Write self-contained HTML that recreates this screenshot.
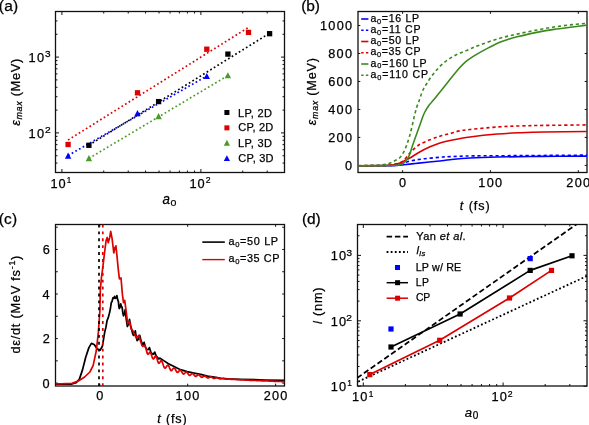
<!DOCTYPE html>
<html><head><meta charset="utf-8"><style>
html,body{margin:0;padding:0;background:#fff;overflow:hidden;}
svg{display:block;will-change:transform;}
text{font-family:"Liberation Sans", sans-serif;}
</style></head><body>
<svg width="589" height="425" viewBox="0 0 589 425">
<defs>
<clipPath id="clipb"><rect x="358.0" y="11.5" width="229.0" height="161.0"/></clipPath>
<clipPath id="clipc"><rect x="55.5" y="224.5" width="229.0" height="161.5"/></clipPath>
<clipPath id="clipd"><rect x="357.5" y="224.5" width="229.5" height="161.5"/></clipPath>
</defs>
<rect width="589" height="425" fill="#fff"/>
<rect x="55.5" y="11.5" width="229.0" height="161.0" fill="none" stroke="#111" stroke-width="1.3"/>
<path d="M61.90 172.5v-3.5M61.90 11.5v3.5" stroke="#111" stroke-width="1.0"/>
<path d="M200.90 172.5v-3.5M200.90 11.5v3.5" stroke="#111" stroke-width="1.0"/>
<path d="M103.74 172.5v-2.0M103.74 11.5v2.0" stroke="#111" stroke-width="1.0"/>
<path d="M128.22 172.5v-2.0M128.22 11.5v2.0" stroke="#111" stroke-width="1.0"/>
<path d="M145.59 172.5v-2.0M145.59 11.5v2.0" stroke="#111" stroke-width="1.0"/>
<path d="M159.06 172.5v-2.0M159.06 11.5v2.0" stroke="#111" stroke-width="1.0"/>
<path d="M170.06 172.5v-2.0M170.06 11.5v2.0" stroke="#111" stroke-width="1.0"/>
<path d="M179.37 172.5v-2.0M179.37 11.5v2.0" stroke="#111" stroke-width="1.0"/>
<path d="M187.43 172.5v-2.0M187.43 11.5v2.0" stroke="#111" stroke-width="1.0"/>
<path d="M194.54 172.5v-2.0M194.54 11.5v2.0" stroke="#111" stroke-width="1.0"/>
<path d="M242.74 172.5v-2.0M242.74 11.5v2.0" stroke="#111" stroke-width="1.0"/>
<path d="M267.22 172.5v-2.0M267.22 11.5v2.0" stroke="#111" stroke-width="1.0"/>
<path d="M55.5 132.90h3.5M284.5 132.90h-3.5" stroke="#111" stroke-width="1.0"/>
<path d="M55.5 57.10h3.5M284.5 57.10h-3.5" stroke="#111" stroke-width="1.0"/>
<path d="M55.5 163.06h2.0M284.5 163.06h-2.0" stroke="#111" stroke-width="1.0"/>
<path d="M55.5 155.72h2.0M284.5 155.72h-2.0" stroke="#111" stroke-width="1.0"/>
<path d="M55.5 149.72h2.0M284.5 149.72h-2.0" stroke="#111" stroke-width="1.0"/>
<path d="M55.5 144.64h2.0M284.5 144.64h-2.0" stroke="#111" stroke-width="1.0"/>
<path d="M55.5 140.25h2.0M284.5 140.25h-2.0" stroke="#111" stroke-width="1.0"/>
<path d="M55.5 136.37h2.0M284.5 136.37h-2.0" stroke="#111" stroke-width="1.0"/>
<path d="M55.5 110.08h2.0M284.5 110.08h-2.0" stroke="#111" stroke-width="1.0"/>
<path d="M55.5 96.73h2.0M284.5 96.73h-2.0" stroke="#111" stroke-width="1.0"/>
<path d="M55.5 87.26h2.0M284.5 87.26h-2.0" stroke="#111" stroke-width="1.0"/>
<path d="M55.5 79.92h2.0M284.5 79.92h-2.0" stroke="#111" stroke-width="1.0"/>
<path d="M55.5 73.92h2.0M284.5 73.92h-2.0" stroke="#111" stroke-width="1.0"/>
<path d="M55.5 68.84h2.0M284.5 68.84h-2.0" stroke="#111" stroke-width="1.0"/>
<path d="M55.5 64.45h2.0M284.5 64.45h-2.0" stroke="#111" stroke-width="1.0"/>
<path d="M55.5 60.57h2.0M284.5 60.57h-2.0" stroke="#111" stroke-width="1.0"/>
<path d="M55.5 34.28h2.0M284.5 34.28h-2.0" stroke="#111" stroke-width="1.0"/>
<path d="M55.5 20.93h2.0M284.5 20.93h-2.0" stroke="#111" stroke-width="1.0"/>
<line x1="68.1" y1="140.0" x2="248.5" y2="27.4" stroke="#dd0000" stroke-width="1.7" stroke-dasharray="1.7 2.5"/>
<line x1="88.9" y1="145.2" x2="268.5" y2="33.9" stroke="#000000" stroke-width="1.7" stroke-dasharray="1.7 2.5"/>
<line x1="68.1" y1="155.5" x2="206.8" y2="76.0" stroke="#0000ff" stroke-width="1.7" stroke-dasharray="1.7 2.5"/>
<line x1="88.9" y1="158.4" x2="227.9" y2="75.6" stroke="#4a9a2a" stroke-width="1.7" stroke-dasharray="1.7 2.5"/>
<rect x="65.45" y="141.85" width="5.3" height="5.3" fill="#dd0000"/>
<rect x="134.85" y="90.15" width="5.3" height="5.3" fill="#dd0000"/>
<rect x="204.15" y="46.55" width="5.3" height="5.3" fill="#dd0000"/>
<rect x="245.85" y="29.75" width="5.3" height="5.3" fill="#dd0000"/>
<rect x="86.25" y="142.65" width="5.3" height="5.3" fill="#000000"/>
<rect x="155.95" y="98.95" width="5.3" height="5.3" fill="#000000"/>
<rect x="225.25" y="51.45" width="5.3" height="5.3" fill="#000000"/>
<rect x="266.95" y="31.05" width="5.3" height="5.3" fill="#000000"/>
<polygon points="68.10,152.62 71.29,158.71 64.91,158.71" fill="#0000ff"/>
<polygon points="137.50,110.12 140.69,116.21 134.31,116.21" fill="#0000ff"/>
<polygon points="206.80,73.02 209.99,79.11 203.61,79.11" fill="#0000ff"/>
<polygon points="88.90,155.12 92.09,161.21 85.71,161.21" fill="#4a9a2a"/>
<polygon points="158.60,113.12 161.79,119.21 155.41,119.21" fill="#4a9a2a"/>
<polygon points="227.90,72.22 231.09,78.31 224.71,78.31" fill="#4a9a2a"/>
<rect x="224.40" y="110.00" width="5.0" height="5.0" fill="#000000"/>
<rect x="224.40" y="125.35" width="5.0" height="5.0" fill="#dd0000"/>
<polygon points="226.90,139.84 229.98,145.72 223.82,145.72" fill="#4a9a2a"/>
<polygon points="226.90,155.19 229.98,161.07 223.82,161.07" fill="#0000ff"/>
<rect x="358.0" y="11.5" width="229.0" height="161.0" fill="none" stroke="#111" stroke-width="1.3"/>
<path d="M402.60 172.5v-2.3M402.60 11.5v2.3" stroke="#111" stroke-width="1.0"/>
<path d="M490.45 172.5v-2.3M490.45 11.5v2.3" stroke="#111" stroke-width="1.0"/>
<path d="M578.30 172.5v-2.3M578.30 11.5v2.3" stroke="#111" stroke-width="1.0"/>
<path d="M358.0 165.40h2.3M587.0 165.40h-2.3" stroke="#111" stroke-width="1.0"/>
<path d="M358.0 137.42h2.3M587.0 137.42h-2.3" stroke="#111" stroke-width="1.0"/>
<path d="M358.0 109.44h2.3M587.0 109.44h-2.3" stroke="#111" stroke-width="1.0"/>
<path d="M358.0 81.46h2.3M587.0 81.46h-2.3" stroke="#111" stroke-width="1.0"/>
<path d="M358.0 53.48h2.3M587.0 53.48h-2.3" stroke="#111" stroke-width="1.0"/>
<path d="M358.0 25.50h2.3M587.0 25.50h-2.3" stroke="#111" stroke-width="1.0"/>
<g clip-path="url(#clipb)">
<path d="M358.50,165.70 C364.48,165.68 386.85,165.77 394.40,165.60 C401.95,165.43 400.32,165.05 403.80,164.70 C407.28,164.35 411.43,163.90 415.30,163.50 C419.17,163.10 422.88,162.72 427.00,162.30 C431.12,161.88 436.17,161.43 440.00,161.00 C443.83,160.57 445.00,160.20 450.00,159.70 C455.00,159.20 462.13,158.45 470.00,158.00 C477.87,157.55 485.53,157.27 497.20,157.00 C508.87,156.73 525.05,156.55 540.00,156.40 C554.95,156.25 579.08,156.15 586.90,156.10" fill="none" stroke="#0000ff" stroke-width="1.6" stroke-linejoin="round"/>
<path d="M358.50,165.70 C363.75,165.67 383.23,165.70 390.00,165.50 C396.77,165.30 395.90,165.20 399.10,164.50 C402.30,163.80 405.23,162.23 409.20,161.30 C413.17,160.37 417.77,159.57 422.90,158.90 C428.03,158.23 435.48,157.68 440.00,157.30 C444.52,156.92 444.40,156.83 450.00,156.60 C455.60,156.37 461.80,156.07 473.60,155.90 C485.40,155.73 501.92,155.73 520.80,155.60 C539.68,155.47 575.88,155.18 586.90,155.10" fill="none" stroke="#0000ff" stroke-width="1.6" stroke-dasharray="3.2 2.8" stroke-linejoin="round"/>
<path d="M358.50,165.70 C362.92,165.67 379.02,165.70 385.00,165.50 C390.98,165.30 391.90,164.92 394.40,164.50 C396.90,164.08 397.50,164.03 400.00,163.00 C402.50,161.97 406.27,160.05 409.40,158.30 C412.53,156.55 415.37,154.42 418.80,152.50 C422.23,150.58 426.47,148.40 430.00,146.80 C433.53,145.20 436.67,143.95 440.00,142.90 C443.33,141.85 445.00,141.48 450.00,140.50 C455.00,139.52 462.13,138.08 470.00,137.00 C477.87,135.92 488.73,134.72 497.20,134.00 C505.67,133.28 512.93,133.03 520.80,132.70 C528.67,132.37 533.38,132.20 544.40,132.00 C555.42,131.80 579.82,131.58 586.90,131.50" fill="none" stroke="#dd0000" stroke-width="1.6" stroke-linejoin="round"/>
<path d="M358.50,165.70 C362.92,165.65 378.92,165.68 385.00,165.40 C391.08,165.12 392.02,164.70 395.00,164.00 C397.98,163.30 400.50,162.95 402.90,161.20 C405.30,159.45 406.75,156.20 409.40,153.50 C412.05,150.80 415.37,147.28 418.80,145.00 C422.23,142.72 426.47,141.27 430.00,139.80 C433.53,138.33 436.67,137.23 440.00,136.20 C443.33,135.17 446.75,134.48 450.00,133.60 C453.25,132.72 456.17,131.58 459.50,130.90 C462.83,130.22 463.72,130.15 470.00,129.50 C476.28,128.85 488.73,127.60 497.20,127.00 C505.67,126.40 512.93,126.17 520.80,125.90 C528.67,125.63 533.38,125.57 544.40,125.40 C555.42,125.23 579.82,124.98 586.90,124.90" fill="none" stroke="#dd0000" stroke-width="1.6" stroke-dasharray="3.2 2.8" stroke-linejoin="round"/>
<path d="M358.50,165.70 C362.92,165.68 379.02,165.67 385.00,165.60 C390.98,165.53 391.73,165.48 394.40,165.30 C397.07,165.12 399.13,165.18 401.00,164.50 C402.87,163.82 404.20,162.77 405.60,161.20 C407.00,159.63 408.30,157.53 409.40,155.10 C410.50,152.67 411.25,149.42 412.20,146.60 C413.15,143.78 414.15,140.87 415.10,138.20 C416.05,135.53 416.95,133.25 417.90,130.60 C418.85,127.95 419.77,125.15 420.80,122.30 C421.83,119.45 422.77,116.30 424.10,113.50 C425.43,110.70 427.23,107.73 428.80,105.50 C430.37,103.27 431.63,102.37 433.50,100.10 C435.37,97.83 437.58,94.92 440.00,91.90 C442.42,88.88 444.88,85.85 448.00,82.00 C451.12,78.15 455.68,72.23 458.70,68.80 C461.72,65.37 463.48,63.60 466.10,61.40 C468.72,59.20 472.08,57.10 474.40,55.60 C476.72,54.10 477.52,53.77 480.00,52.40 C482.48,51.03 486.22,49.00 489.30,47.40 C492.38,45.80 495.42,44.13 498.50,42.80 C501.58,41.47 504.72,40.40 507.80,39.40 C510.88,38.40 512.38,37.93 517.00,36.80 C521.62,35.67 529.33,33.83 535.50,32.60 C541.67,31.37 547.83,30.33 554.00,29.40 C560.17,28.47 566.92,27.72 572.50,27.00 C578.08,26.28 585.00,25.42 587.50,25.10" fill="none" stroke="#3b8a1e" stroke-width="1.6" stroke-linejoin="round"/>
<path d="M358.50,165.70 C361.25,165.67 371.25,165.62 375.00,165.50 C378.75,165.38 378.70,165.35 381.00,165.00 C383.30,164.65 386.57,164.07 388.80,163.40 C391.03,162.73 392.53,161.98 394.40,161.00 C396.27,160.02 398.43,159.03 400.00,157.50 C401.57,155.97 402.70,153.85 403.80,151.80 C404.90,149.75 405.67,147.70 406.60,145.20 C407.53,142.70 408.50,139.92 409.40,136.80 C410.30,133.68 411.15,130.05 412.00,126.50 C412.85,122.95 413.70,118.75 414.50,115.50 C415.30,112.25 415.98,109.58 416.80,107.00 C417.62,104.42 418.50,102.53 419.40,100.00 C420.30,97.47 421.00,94.52 422.20,91.80 C423.40,89.08 424.50,86.98 426.60,83.70 C428.70,80.42 431.78,75.68 434.80,72.10 C437.82,68.52 441.13,65.08 444.70,62.20 C448.27,59.32 452.35,56.85 456.20,54.80 C460.05,52.75 463.83,51.55 467.80,49.90 C471.77,48.25 474.88,46.78 480.00,44.90 C485.12,43.02 492.33,40.40 498.50,38.60 C504.67,36.80 510.83,35.48 517.00,34.10 C523.17,32.72 529.33,31.48 535.50,30.30 C541.67,29.12 547.83,27.95 554.00,27.00 C560.17,26.05 566.92,25.23 572.50,24.60 C578.08,23.97 585.00,23.43 587.50,23.20" fill="none" stroke="#3b8a1e" stroke-width="1.6" stroke-dasharray="3.2 2.8" stroke-linejoin="round"/>
</g>
<line x1="361.2" y1="19.00" x2="368.4" y2="19.00" stroke="#0000ff" stroke-width="1.6"/>
<line x1="361.2" y1="30.25" x2="368.4" y2="30.25" stroke="#0000ff" stroke-width="1.6" stroke-dasharray="2.4 2.3"/>
<line x1="361.2" y1="41.50" x2="368.4" y2="41.50" stroke="#dd0000" stroke-width="1.6"/>
<line x1="361.2" y1="52.75" x2="368.4" y2="52.75" stroke="#dd0000" stroke-width="1.6" stroke-dasharray="2.4 2.3"/>
<line x1="361.2" y1="64.00" x2="368.4" y2="64.00" stroke="#3b8a1e" stroke-width="1.6"/>
<line x1="361.2" y1="75.25" x2="368.4" y2="75.25" stroke="#3b8a1e" stroke-width="1.6" stroke-dasharray="2.4 2.3"/>
<rect x="55.5" y="224.5" width="229.0" height="161.5" fill="none" stroke="#111" stroke-width="1.3"/>
<path d="M99.80 386.0v-2.3M99.80 224.5v2.3" stroke="#111" stroke-width="1.0"/>
<path d="M187.70 386.0v-2.3M187.70 224.5v2.3" stroke="#111" stroke-width="1.0"/>
<path d="M275.60 386.0v-2.3M275.60 224.5v2.3" stroke="#111" stroke-width="1.0"/>
<path d="M55.5 383.10h2.3M284.5 383.10h-2.3" stroke="#111" stroke-width="1.0"/>
<path d="M55.5 360.83h2.3M284.5 360.83h-2.3" stroke="#111" stroke-width="1.0"/>
<path d="M55.5 338.56h2.3M284.5 338.56h-2.3" stroke="#111" stroke-width="1.0"/>
<path d="M55.5 316.29h2.3M284.5 316.29h-2.3" stroke="#111" stroke-width="1.0"/>
<path d="M55.5 294.02h2.3M284.5 294.02h-2.3" stroke="#111" stroke-width="1.0"/>
<path d="M55.5 271.75h2.3M284.5 271.75h-2.3" stroke="#111" stroke-width="1.0"/>
<path d="M55.5 249.48h2.3M284.5 249.48h-2.3" stroke="#111" stroke-width="1.0"/>
<path d="M55.5 227.21h2.3M284.5 227.21h-2.3" stroke="#111" stroke-width="1.0"/>
<g clip-path="url(#clipc)">
<polyline points="55.5,384.0 71.9,384.0 76.2,382.6 79.3,379.4 82.5,369.9 85.7,357.2 88.9,347.6 91.4,343.4 94.2,344.5 97.3,349.1 100.1,350.2 102.4,346.2 104.7,332.1 105.9,327.4 107.1,320.3 108.2,317.9 109.4,313.2 110.3,309.1 111.3,302.6 112.1,301.4 112.9,297.9 113.8,298.3 114.6,296.3 115.3,298.3 116.0,297.9 116.5,297.9 116.9,295.6 117.7,299.8 118.4,301.5 118.8,306.2 119.3,308.5 120.0,307.3 120.7,303.8 121.4,306.7 122.1,307.1 122.8,312.7 123.5,315.9 124.3,314.0 125.2,309.7 126.3,319.3 127.4,326.5 128.4,324.1 129.5,319.4 130.7,325.9 131.8,330.0 132.7,333.8 133.5,335.3 134.4,334.3 135.3,330.9 136.2,336.9 137.1,340.6 138.4,339.2 139.7,335.3 141.1,340.9 142.4,344.1 143.2,344.4 144.1,342.4 145.4,347.1 146.8,349.4 148.1,349.7 149.4,347.6 150.8,351.9 152.1,353.8 153.4,354.2 154.7,352.1 156.1,355.9 157.4,357.4 158.7,358.9 160.0,358.1 164.1,360.9 168.1,363.6 173.6,366.3 180.4,369.7 187.2,371.7 194.0,373.1 200.7,374.4 207.5,376.1 214.3,377.2 221.1,378.3 227.9,378.8 240.0,379.3 265.0,380.0 285.0,380.3" fill="none" stroke="#000000" stroke-width="1.75" stroke-linejoin="round"/>
<polyline points="55.5,384.0 71.9,383.4 78.3,381.0 84.6,377.0 89.9,372.0 93.1,365.6 96.3,350.8 98.4,331.8 99.9,310.6 100.3,290.3 101.4,277.9 102.8,267.5 104.5,253.0 106.1,240.6 107.2,237.5 108.2,242.7 109.7,237.5 110.7,231.3 112.1,238.6 113.8,253.0 114.8,247.9 115.9,245.8 116.9,255.1 118.3,269.6 119.4,278.9 121.0,277.9 122.4,294.4 123.5,302.6 124.7,300.3 126.4,313.2 127.7,323.8 129.5,321.2 131.2,329.1 133.0,330.9 134.8,335.3 136.5,337.9 138.8,335.3 140.6,341.5 141.0,342.2 141.5,344.2 142.0,345.6 142.5,346.3 143.0,346.3 143.5,345.9 144.0,345.5 144.5,345.4 145.0,346.0 145.5,347.0 146.0,348.8 146.5,350.8 147.0,352.7 147.5,353.9 148.0,354.3 148.5,354.0 149.0,353.2 149.5,352.5 150.0,352.3 150.5,352.5 151.0,353.5 151.5,355.0 152.0,356.6 152.5,358.0 153.0,358.8 153.5,359.0 154.0,358.4 154.5,357.5 155.0,356.5 155.5,356.1 156.0,356.3 156.5,357.2 157.0,358.8 157.5,360.5 158.0,362.0 158.5,363.0 159.0,363.3 159.5,362.9 160.0,362.1 160.5,361.2 161.0,360.7 161.5,360.9 162.0,361.6 162.5,362.8 163.0,364.2 163.5,365.7 164.0,367.0 164.5,367.8 165.0,368.2 165.5,368.0 166.0,367.3 166.5,366.5 167.0,365.8 167.5,365.3 168.0,365.2 168.5,365.6 169.0,366.5 169.5,367.8 170.0,369.0 170.5,370.0 171.0,370.6 171.5,370.7 172.0,370.3 172.5,369.6 173.0,368.8 173.5,368.2 174.0,367.9 174.5,368.0 175.0,368.6 175.5,369.6 176.0,370.6 176.5,371.6 177.0,372.3 177.5,372.5 178.0,372.3 178.5,371.7 179.0,371.1 179.5,370.5 180.0,370.1 180.5,370.2 181.0,370.6 181.5,371.4 182.0,372.3 182.5,373.1 183.0,373.8 183.5,374.1 184.0,374.0 184.5,373.5 185.0,373.0 185.5,372.4 186.0,372.0 186.5,372.0 187.0,372.3 187.5,372.9 188.0,373.7 188.5,374.5 189.0,375.1 189.5,375.4 190.0,375.3 190.5,375.0 191.0,374.5 191.5,374.0 192.0,373.6 192.5,373.5 193.0,373.7 193.5,374.2 194.0,374.9 194.5,375.5 195.0,376.1 195.5,376.4 196.0,376.4 196.5,376.1 197.0,375.7 197.5,375.3 198.0,375.0 198.5,374.8 199.0,375.0 199.5,375.3 200.0,375.9 200.5,376.4 201.0,376.9 201.5,377.2 202.0,377.3 202.5,377.1 203.0,376.8 203.5,376.5 204.0,376.2 204.5,376.0 205.0,376.1 205.5,376.3 206.0,376.8 206.5,377.2 207.0,377.6 207.5,377.9 208.0,378.0 208.5,377.9 209.0,377.7 209.5,377.3 210.0,377.1 210.5,376.9 211.0,376.9 211.5,377.1 212.0,377.4 212.5,377.8 213.0,378.1 213.5,378.4 214.0,378.5 214.5,378.4 215.0,378.3 215.5,378.0 216.0,377.8 216.5,377.7 217.0,377.7 217.5,377.8 218.0,378.0 218.5,378.3 219.0,378.6 219.5,378.8 220.0,378.9 220.5,378.9 221.0,378.8 221.5,378.6 222.0,378.5 222.5,378.4 223.0,378.4 223.5,378.4 224.0,378.6 224.5,378.8 225.0,379.0 225.5,379.1 226.0,379.2 226.5,379.2 227.0,379.1 227.5,379.1 228.0,379.0 228.5,379.0 229.0,379.0 229.5,379.1 230.0,379.1 230.5,379.2 231.0,379.3 231.5,379.3 232.0,379.3 232.5,379.3 233.0,379.4 233.5,379.4 234.0,379.4 234.5,379.4 235.0,379.5 235.5,379.5 236.0,379.5 236.5,379.6 237.0,379.6 237.5,379.6 238.0,379.6 238.5,379.7 239.0,379.7 239.5,379.7 240.0,379.8 240.5,379.8 241.0,379.8 241.5,379.8 242.0,379.9 242.5,379.9 243.0,379.9 243.5,379.9 244.0,380.0 244.5,380.0 245.0,380.0 245.5,380.1 246.0,380.1 246.5,380.1 247.0,380.1 247.5,380.2 248.0,380.2 248.5,380.2 249.0,380.2 249.5,380.3 250.0,380.3 250.5,380.3 251.0,380.3 251.5,380.4 252.0,380.4 252.5,380.4 253.0,380.4 253.5,380.4 254.0,380.5 254.5,380.5 255.0,380.5 255.5,380.5 256.0,380.5 256.5,380.6 257.0,380.6 257.5,380.6 258.0,380.6 258.5,380.6 259.0,380.7 259.5,380.7 260.0,380.7 260.5,380.7 261.0,380.7 261.5,380.8 262.0,380.8 262.5,380.8 263.0,380.8 263.5,380.8 264.0,380.9 264.5,380.9 265.0,380.9 265.5,380.9 266.0,380.9 266.5,381.0 267.0,381.0 267.5,381.0 268.0,381.0 268.5,381.0 269.0,381.1 269.5,381.1 270.0,381.1 270.5,381.1 271.0,381.1 271.5,381.2 272.0,381.2 272.5,381.2 273.0,381.2 273.5,381.2 274.0,381.3 274.5,381.3 275.0,381.3 275.5,381.3 276.0,381.3 276.5,381.4 277.0,381.4 277.5,381.4 278.0,381.4 278.5,381.4 279.0,381.5 279.5,381.5 280.0,381.5 280.5,381.5 281.0,381.5 281.5,381.6 282.0,381.6 282.5,381.6 283.0,381.6 283.5,381.6 284.0,381.7 284.5,381.7 285.0,381.7" fill="none" stroke="#dd0000" stroke-width="1.7" stroke-linejoin="round"/>
<line x1="99.0" y1="224.5" x2="99.0" y2="386.0" stroke="#000000" stroke-width="1.7" stroke-dasharray="2.9 4.0"/>
<line x1="102.8" y1="224.5" x2="102.8" y2="386.0" stroke="#dd0000" stroke-width="1.7" stroke-dasharray="2.9 4.0"/>
</g>
<line x1="202.3" y1="242.1" x2="224.8" y2="242.1" stroke="#000000" stroke-width="1.6"/>
<line x1="202.3" y1="259.6" x2="224.8" y2="259.6" stroke="#dd0000" stroke-width="1.4"/>
<rect x="357.5" y="224.5" width="229.5" height="161.5" fill="none" stroke="#111" stroke-width="1.3"/>
<path d="M363.30 386.0v-3.5M363.30 224.5v3.5" stroke="#111" stroke-width="1.0"/>
<path d="M503.10 386.0v-3.5M503.10 224.5v3.5" stroke="#111" stroke-width="1.0"/>
<path d="M405.38 386.0v-2.0M405.38 224.5v2.0" stroke="#111" stroke-width="1.0"/>
<path d="M430.00 386.0v-2.0M430.00 224.5v2.0" stroke="#111" stroke-width="1.0"/>
<path d="M447.47 386.0v-2.0M447.47 224.5v2.0" stroke="#111" stroke-width="1.0"/>
<path d="M461.02 386.0v-2.0M461.02 224.5v2.0" stroke="#111" stroke-width="1.0"/>
<path d="M472.09 386.0v-2.0M472.09 224.5v2.0" stroke="#111" stroke-width="1.0"/>
<path d="M481.44 386.0v-2.0M481.44 224.5v2.0" stroke="#111" stroke-width="1.0"/>
<path d="M489.55 386.0v-2.0M489.55 224.5v2.0" stroke="#111" stroke-width="1.0"/>
<path d="M496.70 386.0v-2.0M496.70 224.5v2.0" stroke="#111" stroke-width="1.0"/>
<path d="M545.18 386.0v-2.0M545.18 224.5v2.0" stroke="#111" stroke-width="1.0"/>
<path d="M569.80 386.0v-2.0M569.80 224.5v2.0" stroke="#111" stroke-width="1.0"/>
<path d="M357.5 386.20h3.5M587.0 386.20h-3.5" stroke="#111" stroke-width="1.0"/>
<path d="M357.5 320.80h3.5M587.0 320.80h-3.5" stroke="#111" stroke-width="1.0"/>
<path d="M357.5 255.40h3.5M587.0 255.40h-3.5" stroke="#111" stroke-width="1.0"/>
<path d="M357.5 366.51h2.0M587.0 366.51h-2.0" stroke="#111" stroke-width="1.0"/>
<path d="M357.5 355.00h2.0M587.0 355.00h-2.0" stroke="#111" stroke-width="1.0"/>
<path d="M357.5 346.83h2.0M587.0 346.83h-2.0" stroke="#111" stroke-width="1.0"/>
<path d="M357.5 340.49h2.0M587.0 340.49h-2.0" stroke="#111" stroke-width="1.0"/>
<path d="M357.5 335.31h2.0M587.0 335.31h-2.0" stroke="#111" stroke-width="1.0"/>
<path d="M357.5 330.93h2.0M587.0 330.93h-2.0" stroke="#111" stroke-width="1.0"/>
<path d="M357.5 327.14h2.0M587.0 327.14h-2.0" stroke="#111" stroke-width="1.0"/>
<path d="M357.5 323.79h2.0M587.0 323.79h-2.0" stroke="#111" stroke-width="1.0"/>
<path d="M357.5 301.11h2.0M587.0 301.11h-2.0" stroke="#111" stroke-width="1.0"/>
<path d="M357.5 289.60h2.0M587.0 289.60h-2.0" stroke="#111" stroke-width="1.0"/>
<path d="M357.5 281.43h2.0M587.0 281.43h-2.0" stroke="#111" stroke-width="1.0"/>
<path d="M357.5 275.09h2.0M587.0 275.09h-2.0" stroke="#111" stroke-width="1.0"/>
<path d="M357.5 269.91h2.0M587.0 269.91h-2.0" stroke="#111" stroke-width="1.0"/>
<path d="M357.5 265.53h2.0M587.0 265.53h-2.0" stroke="#111" stroke-width="1.0"/>
<path d="M357.5 261.74h2.0M587.0 261.74h-2.0" stroke="#111" stroke-width="1.0"/>
<path d="M357.5 258.39h2.0M587.0 258.39h-2.0" stroke="#111" stroke-width="1.0"/>
<path d="M357.5 235.71h2.0M587.0 235.71h-2.0" stroke="#111" stroke-width="1.0"/>
<g clip-path="url(#clipd)">
<line x1="357.1" y1="378.0" x2="577" y2="224.0" stroke="#000000" stroke-width="1.75" stroke-dasharray="5.5 2.8"/>
<line x1="358.2" y1="381.6" x2="589" y2="275.1" stroke="#000000" stroke-width="1.8" stroke-dasharray="1.8 2.3"/>
<polyline points="391.0,347.0 460.1,314.0 530.2,270.4 572.0,255.8" fill="none" stroke="#000000" stroke-width="1.7" stroke-linejoin="round"/>
<polyline points="369.8,374.6 439.7,340.3 509.5,298.0 551.5,270.4" fill="none" stroke="#dd0000" stroke-width="1.7" stroke-linejoin="round"/>
</g>
<rect x="388.40" y="344.40" width="5.2" height="5.2" fill="#000000"/>
<rect x="457.50" y="311.40" width="5.2" height="5.2" fill="#000000"/>
<rect x="527.60" y="267.80" width="5.2" height="5.2" fill="#000000"/>
<rect x="569.40" y="253.20" width="5.2" height="5.2" fill="#000000"/>
<rect x="367.20" y="372.00" width="5.2" height="5.2" fill="#dd0000"/>
<rect x="437.10" y="337.70" width="5.2" height="5.2" fill="#dd0000"/>
<rect x="506.90" y="295.40" width="5.2" height="5.2" fill="#dd0000"/>
<rect x="548.90" y="267.80" width="5.2" height="5.2" fill="#dd0000"/>
<rect x="388.40" y="326.40" width="5.2" height="5.2" fill="#0000ff"/>
<rect x="527.60" y="256.00" width="5.2" height="5.2" fill="#0000ff"/>
<line x1="386.6" y1="236.5" x2="408" y2="236.5" stroke="#000000" stroke-width="1.75" stroke-dasharray="5.5 2.8"/>
<line x1="386.6" y1="252" x2="408" y2="252" stroke="#000000" stroke-width="1.8" stroke-dasharray="1.8 2.3"/>
<rect x="395.00" y="265.00" width="5.0" height="5.0" fill="#0000ff"/>
<line x1="386.6" y1="282.7" x2="408" y2="282.7" stroke="#000000" stroke-width="1.5"/>
<rect x="395.10" y="280.20" width="5.0" height="5.0" fill="#000000"/>
<line x1="386.6" y1="298.2" x2="408" y2="298.2" stroke="#dd0000" stroke-width="1.5"/>
<rect x="395.10" y="295.70" width="5.0" height="5.0" fill="#dd0000"/>
<text transform="translate(-1.13,10.70) scale(1.0000,1)" font-size="15.48" fill="#000" letter-spacing="0.136" stroke="#000" stroke-width="0.25">(a)</text>
<text transform="translate(301.17,10.70) scale(1.0000,1)" font-size="15.48" fill="#000" letter-spacing="-0.114" stroke="#000" stroke-width="0.25">(b)</text>
<text transform="translate(-1.13,224.40) scale(1.0000,1)" font-size="15.48" fill="#000" letter-spacing="0.101" stroke="#000" stroke-width="0.25">(c)</text>
<text transform="translate(301.97,224.40) scale(1.0000,1)" font-size="15.48" fill="#000" letter-spacing="-0.164" stroke="#000" stroke-width="0.25">(d)</text>
<text transform="translate(28.38,62.10) scale(1.0000,1)" font-size="12.80" fill="#000" letter-spacing="1.428" stroke="#000" stroke-width="0.25">10</text>
<text transform="translate(45.00,57.40) scale(1.1111,1)" font-size="9.00" fill="#000" stroke="#000" stroke-width="0.25">3</text>
<text transform="translate(28.38,137.90) scale(1.0000,1)" font-size="12.80" fill="#000" letter-spacing="1.428" stroke="#000" stroke-width="0.25">10</text>
<text transform="translate(44.89,132.90) scale(1.1353,1)" font-size="9.00" fill="#000" stroke="#000" stroke-width="0.25">2</text>
<text transform="translate(50.58,187.50) scale(1.0000,1)" font-size="12.80" fill="#000" letter-spacing="0.728" stroke="#000" stroke-width="0.25">10</text>
<text transform="translate(66.85,182.60) scale(0.9044,1)" font-size="9.00" fill="#000" stroke="#000" stroke-width="0.25">1</text>
<text transform="translate(189.38,188.00) scale(1.0000,1)" font-size="12.80" fill="#000" letter-spacing="0.928" stroke="#000" stroke-width="0.25">10</text>
<text transform="translate(205.67,182.90) scale(0.9662,1)" font-size="9.00" fill="#000" stroke="#000" stroke-width="0.25">2</text>
<text transform="translate(352.08,401.00) scale(1.0000,1)" font-size="12.80" fill="#000" letter-spacing="1.128" stroke="#000" stroke-width="0.25">10</text>
<text transform="translate(368.63,396.60) scale(0.9302,1)" font-size="9.00" fill="#000" stroke="#000" stroke-width="0.25">1</text>
<text transform="translate(491.58,401.00) scale(1.0000,1)" font-size="12.80" fill="#000" letter-spacing="0.928" stroke="#000" stroke-width="0.25">10</text>
<text transform="translate(507.87,396.60) scale(0.9662,1)" font-size="9.00" fill="#000" stroke="#000" stroke-width="0.25">2</text>
<text transform="translate(330.78,260.40) scale(1.0000,1)" font-size="12.80" fill="#000" letter-spacing="1.128" stroke="#000" stroke-width="0.25">10</text>
<text transform="translate(346.40,255.60) scale(1.1111,1)" font-size="9.00" fill="#000" stroke="#000" stroke-width="0.25">3</text>
<text transform="translate(330.78,325.80) scale(1.0000,1)" font-size="12.80" fill="#000" letter-spacing="1.128" stroke="#000" stroke-width="0.25">10</text>
<text transform="translate(346.29,321.00) scale(1.1353,1)" font-size="9.00" fill="#000" stroke="#000" stroke-width="0.25">2</text>
<text transform="translate(330.78,390.90) scale(1.0000,1)" font-size="12.80" fill="#000" letter-spacing="1.128" stroke="#000" stroke-width="0.25">10</text>
<text transform="translate(347.23,386.10) scale(0.9302,1)" font-size="9.00" fill="#000" stroke="#000" stroke-width="0.25">1</text>
<text transform="translate(344.90,170.00) scale(1.0000,1)" font-size="12.70" fill="#000" letter-spacing="1.270" stroke="#000" stroke-width="0.25">0</text>
<text transform="translate(328.26,142.02) scale(1.0000,1)" font-size="12.70" fill="#000" letter-spacing="1.270" stroke="#000" stroke-width="0.25">200</text>
<text transform="translate(328.26,114.04) scale(1.0000,1)" font-size="12.70" fill="#000" letter-spacing="1.270" stroke="#000" stroke-width="0.25">400</text>
<text transform="translate(328.26,86.06) scale(1.0000,1)" font-size="12.70" fill="#000" letter-spacing="1.270" stroke="#000" stroke-width="0.25">600</text>
<text transform="translate(328.26,58.08) scale(1.0000,1)" font-size="12.70" fill="#000" letter-spacing="1.270" stroke="#000" stroke-width="0.25">800</text>
<text transform="translate(320.00,30.10) scale(1.0000,1)" font-size="12.70" fill="#000" letter-spacing="1.270" stroke="#000" stroke-width="0.25">1000</text>
<text transform="translate(399.04,186.60) scale(1.0000,1)" font-size="12.70" fill="#000" letter-spacing="1.270" stroke="#000" stroke-width="0.25">0</text>
<text transform="translate(96.24,400.20) scale(1.0000,1)" font-size="12.70" fill="#000" letter-spacing="1.270" stroke="#000" stroke-width="0.25">0</text>
<text transform="translate(478.32,186.60) scale(1.0000,1)" font-size="12.70" fill="#000" letter-spacing="1.270" stroke="#000" stroke-width="0.25">100</text>
<text transform="translate(175.57,400.20) scale(1.0000,1)" font-size="12.70" fill="#000" letter-spacing="1.270" stroke="#000" stroke-width="0.25">100</text>
<text transform="translate(566.36,186.60) scale(1.0000,1)" font-size="12.70" fill="#000" letter-spacing="1.270" stroke="#000" stroke-width="0.25">200</text>
<text transform="translate(263.66,400.20) scale(1.0000,1)" font-size="12.70" fill="#000" letter-spacing="1.270" stroke="#000" stroke-width="0.25">200</text>
<text transform="translate(42.60,387.60) scale(1.0000,1)" font-size="12.70" fill="#000" letter-spacing="1.270" stroke="#000" stroke-width="0.25">0</text>
<text transform="translate(42.72,343.06) scale(1.0000,1)" font-size="12.70" fill="#000" letter-spacing="1.270" stroke="#000" stroke-width="0.25">2</text>
<text transform="translate(42.47,298.52) scale(1.0000,1)" font-size="12.70" fill="#000" letter-spacing="1.270" stroke="#000" stroke-width="0.25">4</text>
<text transform="translate(42.72,253.98) scale(1.0000,1)" font-size="12.70" fill="#000" letter-spacing="1.270" stroke="#000" stroke-width="0.25">6</text>
<text transform="translate(162.53,204.00) scale(0.9277,1)" font-size="14.44" fill="#000" stroke="#000" stroke-width="0.25"><tspan font-style="italic">a</tspan></text>
<text transform="translate(170.38,205.80) scale(1.0937,1)" font-size="9.71" fill="#000" stroke="#000" stroke-width="0.25">0</text>
<text transform="translate(464.74,416.90) scale(0.9632,1)" font-size="13.70" fill="#000" stroke="#000" stroke-width="0.25"><tspan font-style="italic">a</tspan></text>
<text transform="translate(472.70,419.30) scale(0.9859,1)" font-size="10.14" fill="#000" stroke="#000" stroke-width="0.25">0</text>
<text transform="translate(459.77,209.60) scale(1.0000,1)" font-size="12.60" fill="#000" letter-spacing="0.956" stroke="#000" stroke-width="0.25"><tspan font-style="italic">t</tspan> (fs)</text>
<text transform="translate(157.37,422.60) scale(1.0000,1)" font-size="12.60" fill="#000" letter-spacing="0.816" stroke="#000" stroke-width="0.25"><tspan font-style="italic">t</tspan> (fs)</text>
<text transform="translate(20.05,125.86) rotate(-90) scale(1.0000,1)" font-size="12.95" fill="#000" letter-spacing="0.624" stroke="#000" stroke-width="0.25"><tspan font-style="italic">ε</tspan><tspan font-style="italic" font-size="70%" dy="0.25em">max</tspan><tspan dy="-0.175em"> (MeV)</tspan></text>
<text transform="translate(316.00,125.35) rotate(-90) scale(1.0000,1)" font-size="12.60" fill="#000" letter-spacing="0.802" stroke="#000" stroke-width="0.25"><tspan font-style="italic">ε</tspan><tspan font-style="italic" font-size="70%" dy="0.25em">max</tspan><tspan dy="-0.175em"> (MeV)</tspan></text>
<text transform="translate(19.80,353.61) rotate(-90) scale(1.0000,1)" font-size="12.80" fill="#000" letter-spacing="0.738" stroke="#000" stroke-width="0.25">dε/dt (MeV fs<tspan font-size="70%" dy="-0.55em">-1</tspan><tspan dy="0.385em">)</tspan></text>
<text transform="translate(321.90,324.06) rotate(-90) scale(1.0000,1)" font-size="12.80" fill="#000" letter-spacing="0.797" stroke="#000" stroke-width="0.25"><tspan font-style="italic">l</tspan> (nm)</text>
<text transform="translate(238.02,116.50) scale(1.0000,1)" font-size="11.00" fill="#000" letter-spacing="0.360" stroke="#000" stroke-width="0.25">LP, 2D</text>
<text transform="translate(238.35,131.30) scale(1.0000,1)" font-size="11.00" fill="#000" letter-spacing="0.140" stroke="#000" stroke-width="0.25">CP, 2D</text>
<text transform="translate(238.02,146.50) scale(1.0000,1)" font-size="11.00" fill="#000" letter-spacing="0.360" stroke="#000" stroke-width="0.25">LP, 3D</text>
<text transform="translate(238.35,161.80) scale(1.0000,1)" font-size="11.00" fill="#000" letter-spacing="0.220" stroke="#000" stroke-width="0.25">CP, 3D</text>
<text transform="translate(370.48,22.00) scale(1.0000,1)" font-size="10.57" fill="#000" letter-spacing="0.684" stroke="#000" stroke-width="0.25">a<tspan font-size="70%" dy="0.25em">0</tspan><tspan dy="-0.175em">=16 LP</tspan></text>
<text transform="translate(370.48,33.15) scale(1.0000,1)" font-size="10.57" fill="#000" letter-spacing="0.762" stroke="#000" stroke-width="0.25">a<tspan font-size="70%" dy="0.25em">0</tspan><tspan dy="-0.175em">=11 CP</tspan></text>
<text transform="translate(370.48,44.30) scale(1.0000,1)" font-size="10.57" fill="#000" letter-spacing="0.684" stroke="#000" stroke-width="0.25">a<tspan font-size="70%" dy="0.25em">0</tspan><tspan dy="-0.175em">=50 LP</tspan></text>
<text transform="translate(370.48,55.45) scale(1.0000,1)" font-size="10.57" fill="#000" letter-spacing="0.641" stroke="#000" stroke-width="0.25">a<tspan font-size="70%" dy="0.25em">0</tspan><tspan dy="-0.175em">=35 CP</tspan></text>
<text transform="translate(370.48,66.60) scale(1.0000,1)" font-size="10.57" fill="#000" letter-spacing="0.796" stroke="#000" stroke-width="0.25">a<tspan font-size="70%" dy="0.25em">0</tspan><tspan dy="-0.175em">=160 LP</tspan></text>
<text transform="translate(370.48,77.75) scale(1.0000,1)" font-size="10.57" fill="#000" letter-spacing="0.864" stroke="#000" stroke-width="0.25">a<tspan font-size="70%" dy="0.25em">0</tspan><tspan dy="-0.175em">=110 CP</tspan></text>
<text transform="translate(228.47,244.80) scale(1.0000,1)" font-size="10.86" fill="#000" letter-spacing="0.661" stroke="#000" stroke-width="0.25">a<tspan font-size="70%" dy="0.25em">0</tspan><tspan dy="-0.175em">=50 LP</tspan></text>
<text transform="translate(228.47,262.40) scale(1.0000,1)" font-size="10.86" fill="#000" letter-spacing="0.612" stroke="#000" stroke-width="0.25">a<tspan font-size="70%" dy="0.25em">0</tspan><tspan dy="-0.175em">=35 CP</tspan></text>
<text transform="translate(416.27,239.70) scale(1.0000,1)" font-size="11.00" fill="#000" letter-spacing="0.408" stroke="#000" stroke-width="0.25">Yan <tspan font-style="italic">et al</tspan>.</text>
<text transform="translate(416.38,254.20) scale(1.0000,1)" font-size="11.00" fill="#000" letter-spacing="0.455" stroke="#000" stroke-width="0.25"><tspan font-style="italic">l<tspan font-size="70%" dy="0.25em">ls</tspan></tspan></text>
<text transform="translate(415.74,271.10) scale(1.0000,1)" font-size="10.70" fill="#000" letter-spacing="0.154" stroke="#000" stroke-width="0.25">LP w/ RE</text>
<text transform="translate(415.77,286.20) scale(1.0000,1)" font-size="10.40" fill="#000" letter-spacing="0.464" stroke="#000" stroke-width="0.25">LP</text>
<text transform="translate(416.08,301.20) scale(1.0000,1)" font-size="10.40" fill="#000" letter-spacing="-0.216" stroke="#000" stroke-width="0.25">CP</text>
</svg></body></html>
